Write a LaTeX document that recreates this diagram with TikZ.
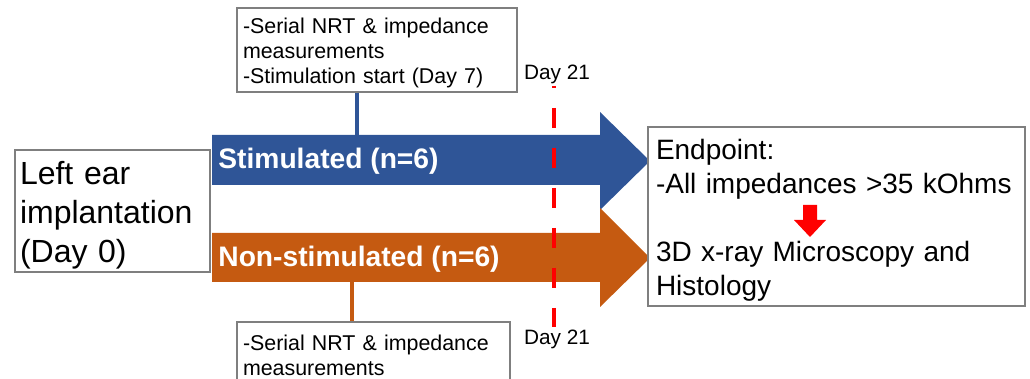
\documentclass[tikz,border=0pt]{standalone}
\usepackage{fontspec}
\setmainfont{Liberation Sans}
\definecolor{stimblue}{HTML}{2F5597}
\definecolor{nonstimorange}{HTML}{C55A11}
\definecolor{boxgray}{HTML}{7F7F7F}
\begin{document}
\begin{tikzpicture}[x=0.5pt, y=-0.5pt]

	% style of the boxes and labels
	\tikzstyle{infobox}=[draw=boxgray, line width=0.6pt, fill=white, align=left, inner ysep=0pt, execute at begin node={\rule{0pt}{1em}}]
	\tikzstyle{grouplabel}=[text=white, font=\fontsize{14.1}{17}\selectfont\bfseries, anchor=west, inner sep=0pt]
	\tikzstyle{daylabel}=[font=\fontsize{10.4}{12.5}\selectfont, inner sep=1pt]
	\tikzstyle{smalltext}=[font=\fontsize{10.7}{12.5}\selectfont]

	\clip (0,0) rectangle (1030,379);

	% the two group arrows
	\fill[stimblue] (212,135) -- (600,135) -- (600,112) -- (650,161) -- (600,210) -- (600,185) -- (212,185) -- cycle;
	\fill[nonstimorange] (212,233) -- (600,233) -- (600,208) -- (650,258) -- (600,307) -- (600,282) -- (212,282) -- cycle;
	\coordinate (stimjoin) at (357,135);
	\coordinate (nonstimjoin) at (352,282);

	\node[grouplabel] (stimtext) at (218,161) {Stimulated (n=6)};
	\node[grouplabel] (nonstimtext) at (218,259) {Non-stimulated (n=6)};

	% boxes
	\node[infobox, font=\fontsize{16}{19.5}\selectfont, text width=92.5pt, inner xsep=2.5pt, minimum height=61pt] (implant) at (112.5,211) {Left ear\\implantation\\(Day 0)};
	\node[infobox, smalltext, text width=134pt, inner xsep=3pt, minimum height=42pt] (stimbox) at (377,50) {-Serial NRT \& impedance\\measurements\\-Stimulation start (Day 7)};
	\node[infobox, smalltext, text width=130.5pt, inner xsep=3pt, minimum height=30pt] (nonstimbox) at (373.5,352) {-Serial NRT \& impedance\\measurements};
	\node[infobox, font=\fontsize{14}{17}\selectfont, text width=180.5pt, inner xsep=4pt, minimum height=89.5pt] (endbox) at (836.5,216.5) {Endpoint:\\-All impedances >35 kOhms\\[17pt]3D x-ray Microscopy and\\Histology};

	% connectors
	\draw[stimblue, line width=2pt] (stimjoin |- stimbox.south) -- (stimjoin);
	\draw[nonstimorange, line width=2pt] (nonstimjoin) -- (nonstimjoin |- nonstimbox.north);

	% day 21 marker
	\node[daylabel] (daytop) at (557,74) {Day 21};
	\node[daylabel] (daybot) at (557,339) {Day 21};
	\draw[red, line width=2pt, dash pattern=on 10pt off 10pt, dash phase=9pt] ([xshift=-1.5pt]daytop.south) -- ([xshift=-1.5pt]daybot.north);

	% red arrow in the endpoint box
	\coordinate (redarr) at (810,205);
	\fill[red] (redarr) ++(-7,0) -- ++(14,0) -- ++(0,15) -- ++(9,0) -- ++(-16,17) -- ++(-16,-17) -- ++(9,0) -- cycle;

\end{tikzpicture}
\end{document}
